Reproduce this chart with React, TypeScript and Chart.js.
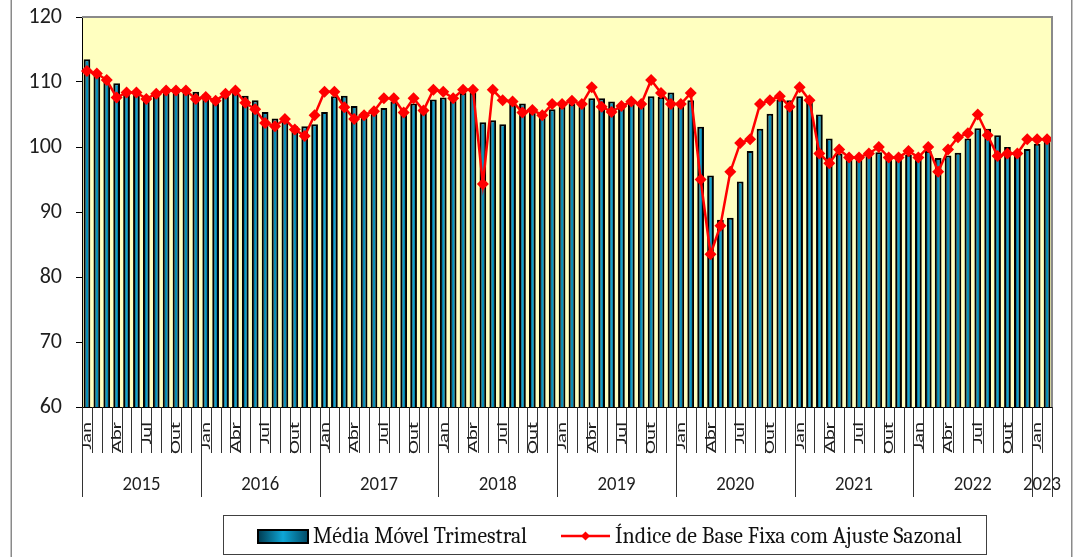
import React, { useEffect, useRef } from 'react';
import { Chart, registerables } from 'chart.js';

Chart.register(...registerables);

const years = ['2015', '2016', '2017', '2018', '2019', '2020', '2021', '2022', '2023'];
const monthNames = ['Jan', 'Fev', 'Mar', 'Abr', 'Mai', 'Jun', 'Jul', 'Ago', 'Set', 'Out', 'Nov', 'Dez'];
const shownMonths = ['Jan', 'Abr', 'Jul', 'Out'];
const monthsPerYear = [12, 12, 12, 12, 12, 12, 12, 12, 2];

const categories: string[] = [];
years.forEach((y, yi) => {
  for (let m = 0; m < monthsPerYear[yi]; m++) categories.push(monthNames[m] + '/' + y);
});

const mediaMovel = [
  113.5, 111.6, 110.8, 109.8, 108.7, 108.7, 107.7, 108.3, 108.9, 108.9, 108.9, 108.5,
  108.1, 107.5, 108.0, 108.8, 107.9, 107.2, 105.4, 104.4, 104.1, 103.2, 103.2, 103.5,
  105.4, 107.8, 107.9, 106.3, 105.4, 105.7, 106.0, 107.0, 106.0, 106.7, 105.4, 107.3,
  107.6, 107.1, 108.3, 108.4, 103.8, 104.1, 103.5, 107.3, 106.7, 105.7, 104.6, 105.8,
  106.2, 106.6, 106.4, 107.5, 107.5, 107.0, 106.0, 106.6, 106.6, 107.8, 107.7, 108.4,
  106.8, 107.2, 103.1, 95.6, 88.8, 89.1, 94.7, 99.4, 102.8, 105.1, 107.3, 107.2,
  107.8, 107.0, 105.0, 101.3, 99.0, 98.5, 98.2, 98.7, 99.2, 98.5, 98.5, 98.8,
  98.3, 99.4, 98.3, 98.7, 99.1, 101.3, 102.9, 102.8, 101.8, 100.0, 98.6, 99.7,
  100.5, 100.9,
];

const indiceSazonal = [
  111.7, 111.3, 110.3, 107.6, 108.4, 108.4, 107.4, 108.2, 108.7, 108.7, 108.7, 107.4,
  107.7, 107.1, 108.2, 108.7, 106.8, 105.8, 103.7, 103.2, 104.3, 102.7, 101.7, 104.9,
  108.5, 108.5, 106.1, 104.3, 104.9, 105.5, 107.5, 107.5, 105.3, 107.5, 105.6, 108.8,
  108.5, 107.5, 108.8, 108.8, 94.3, 108.8, 107.2, 107.0, 105.3, 105.7, 104.9, 106.6,
  106.6, 107.1, 106.6, 109.2, 106.2, 105.4, 106.3, 107.0, 106.6, 110.3, 108.3, 106.6,
  106.6, 108.3, 95.0, 83.5, 87.9, 96.2, 100.6, 101.2, 106.6, 107.2, 107.8, 106.2,
  109.2, 107.2, 99.0, 97.5, 99.6, 98.4, 98.4, 99.0, 100.0, 98.4, 98.4, 99.4,
  98.4, 100.0, 96.2, 99.6, 101.5, 102.1, 105.0, 101.8, 98.6, 99.0, 99.0, 101.2,
  101.2, 101.2,
];

const yTicks = [60, 70, 80, 90, 100, 110, 120];
const barLabel = 'Média Móvel Trimestral';
const lineLabel = 'Índice de Base Fixa com Ajuste Sazonal';
const SANS = 'Carlito, Lato, sans-serif';
const SERIF = 'Caladea, "Liberation Serif", serif';

function barGradient(c: CanvasRenderingContext2D, x0: number, x1: number) {
  const g = c.createLinearGradient(x0, 0, x1, 0);
  g.addColorStop(0, '#003a50');
  g.addColorStop(0.5, '#0ea6d6');
  g.addColorStop(1, '#004a66');
  return g;
}

const decor = {
  id: 'decor',
  beforeDraw(chart: any) {
    const { ctx, chartArea: a } = chart;
    ctx.save();
    ctx.fillStyle = '#ffffff';
    ctx.fillRect(0, 0, chart.width, chart.height);
    ctx.fillStyle = '#FFFFC0';
    ctx.fillRect(a.left, a.top, a.right - a.left, a.bottom - a.top);
    ctx.fillStyle = '#8a8a8a';
    ctx.fillRect(10.5, 0, 1.5, chart.height);
    ctx.fillRect(1071, 0, 1.5, chart.height);
    ctx.restore();
  },
  afterDraw(chart: any) {
    const { ctx, chartArea: a } = chart;
    const xs = chart.scales.x;
    const n = categories.length;
    const half = (xs.getPixelForValue(1) - xs.getPixelForValue(0)) / 2;
    ctx.save();
    ctx.strokeStyle = '#8a8a8a';
    ctx.lineWidth = 2;
    ctx.beginPath();
    ctx.moveTo(a.left, a.top);
    ctx.lineTo(a.right, a.top);
    ctx.lineTo(a.right, a.bottom);
    ctx.stroke();

    ctx.strokeStyle = '#333';
    ctx.lineWidth = 1;
    let start = 0;
    const yearStarts: number[] = [];
    years.forEach((_, yi) => { yearStarts.push(start); start += monthsPerYear[yi]; });
    for (let i = 0; i <= n; i++) {
      const bx = i < n ? xs.getPixelForValue(i) - half : xs.getPixelForValue(n - 1) + half;
      const isYear = i === n || yearStarts.indexOf(i) >= 0;
      const px = Math.round(bx) + 0.5;
      ctx.beginPath();
      ctx.moveTo(px, a.bottom);
      ctx.lineTo(px, isYear ? 497 : 453);
      ctx.stroke();
    }

    ctx.fillStyle = '#1e1e1e';
    ctx.font = '15px ' + SANS;
    ctx.textAlign = 'right';
    ctx.textBaseline = 'middle';
    for (let i = 0; i < n; i++) {
      const m = categories[i].split('/')[0];
      if (shownMonths.indexOf(m) < 0) continue;
      const x = xs.getPixelForValue(i);
      ctx.save();
      ctx.translate(x + 0.5, 422);
      ctx.rotate(-Math.PI / 2);
      ctx.scale(1.4, 1);
      ctx.fillText(m, 0, 0);
      ctx.restore();
    }

    ctx.font = '21px ' + SANS;
    ctx.textAlign = 'center';
    ctx.textBaseline = 'middle';
    years.forEach((y, yi) => {
      const s = yearStarts[yi];
      const e = s + monthsPerYear[yi] - 1;
      const cx = (xs.getPixelForValue(s) + xs.getPixelForValue(e)) / 2;
      ctx.fillText(y, cx, 485, 38);
    });

    ctx.strokeStyle = '#404040';
    ctx.lineWidth = 1;
    ctx.strokeRect(223.5, 515.5, 763, 39);
    ctx.fillStyle = barGradient(ctx, 258, 308);
    ctx.fillRect(258, 530, 50, 13);
    ctx.strokeStyle = '#000';
    ctx.lineWidth = 2;
    ctx.strokeRect(258, 530, 50, 13);
    ctx.fillStyle = '#111';
    ctx.font = '23px ' + SERIF;
    ctx.textAlign = 'left';
    ctx.textBaseline = 'alphabetic';
    ctx.fillText(barLabel, 313, 543, 214);
    ctx.strokeStyle = '#FF0000';
    ctx.lineWidth = 2.5;
    ctx.beginPath();
    ctx.moveTo(561, 536);
    ctx.lineTo(610, 536);
    ctx.stroke();
    ctx.fillStyle = '#FF0000';
    ctx.beginPath();
    ctx.moveTo(585.5, 531.5);
    ctx.lineTo(590, 536);
    ctx.lineTo(585.5, 540.5);
    ctx.lineTo(581, 536);
    ctx.closePath();
    ctx.fill();
    ctx.fillStyle = '#111';
    ctx.fillText(lineLabel, 615, 543, 347);
    ctx.restore();
  },
};

export default function App() {
  const ref = useRef<HTMLCanvasElement | null>(null);
  useEffect(() => {
    let chart: any = null;
    let cancelled = false;
    const build = () => {
      if (cancelled || !ref.current) return;
      chart = new Chart(ref.current, {
        type: 'bar',
        data: {
          labels: categories,
          datasets: [
            {
              type: 'line',
              label: lineLabel,
              data: indiceSazonal,
              borderColor: '#FF0000',
              backgroundColor: '#FF0000',
              borderWidth: 2.5,
              pointStyle: 'rectRot',
              pointRadius: 6,
              pointBorderWidth: 0,
              pointBackgroundColor: '#FF0000',
              tension: 0,
              order: 0,
            } as any,
            {
              type: 'bar',
              label: barLabel,
              data: mediaMovel,
              backgroundColor: (c: any) => {
                const xs = c.chart.scales && c.chart.scales.x;
                if (!xs || c.dataIndex === undefined) return '#0a7fa5';
                const x = xs.getPixelForValue(c.dataIndex);
                if (!isFinite(x)) return '#0a7fa5';
                return barGradient(c.chart.ctx, x - 2, x + 2);
              },
              borderColor: '#000000',
              borderWidth: 2,
              borderSkipped: 'start',
              categoryPercentage: 1,
              barPercentage: 0.68,
              order: 1,
            } as any,
          ],
        },
        options: {
          animation: false,
          responsive: false,
          layout: { padding: { left: 0, right: 28, top: 17, bottom: 0 } },
          plugins: { legend: { display: false }, tooltip: { enabled: false } },
          scales: {
            x: {
              type: 'category',
              offset: true,
              grid: { display: false },
              border: { display: true, color: '#000', width: 1 },
              ticks: { display: false },
              afterFit: (s: any) => { s.height = 150; s.paddingLeft = 0; s.paddingRight = 0; },
            },
            y: {
              min: 60,
              max: 120,
              afterBuildTicks: (s: any) => { s.ticks = yTicks.map((v) => ({ value: v })); },
              grid: { drawOnChartArea: false, drawTicks: true, tickLength: 6, color: '#000' },
              border: { display: true, color: '#000', width: 1 },
              ticks: { font: { family: SANS, size: 22 }, color: '#1e1e1e', padding: 14 },
              afterFit: (s: any) => { s.width = 82; s.paddingTop = 0; s.paddingBottom = 0; },
            },
          },
        } as any,
        plugins: [decor],
      });
    };
    const fonts = (document as any).fonts;
    if (fonts && fonts.load) {
      Promise.all([
        fonts.load('22px Carlito'),
        fonts.load('15px Carlito'),
        fonts.load('23px Caladea'),
        fonts.load('23px "Liberation Serif"'),
      ]).then(build, build);
    } else {
      build();
    }
    return () => {
      cancelled = true;
      if (chart) chart.destroy();
    };
  }, []);
  return (
    <canvas
      ref={ref}
      width={1080}
      height={557}
      style={{ position: 'fixed', left: 0, top: 0, width: 1080, height: 557, display: 'block' }}
    />
  );
}
